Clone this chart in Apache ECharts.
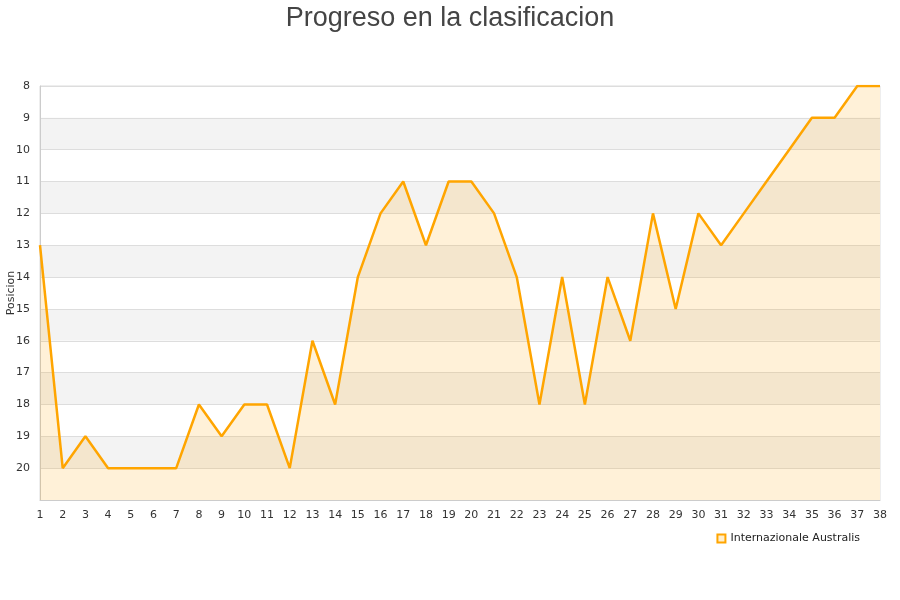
<!DOCTYPE html>
<html>
<head>
<meta charset="utf-8">
<script src="https://cdn.jsdelivr.net/npm/echarts@6/dist/echarts.min.js"></script>
<style>
  html, body { margin: 0; padding: 0; background: #fff; }
  #chart-container { width: 900px; height: 600px; }
</style>
</head>
<body>
<div id="chart-container"></div>
<script>
var dom = document.getElementById("chart-container");
var myChart = echarts.init(dom, null, { renderer: "canvas" });

var jornadas = [];
for (var i = 1; i <= 38; i++) jornadas.push(String(i));

var teamName = "Internazionale Australis";
var posiciones = [13, 20, 19, 20, 20, 20, 20, 18, 19, 18, 18, 20, 16, 18, 14, 12, 11, 13, 11, 11,
  12, 14, 18, 14, 18, 14, 16, 12, 15, 12, 13, 12, 11, 10, 9, 9, 8, 8];

var option = {
  textStyle: { fontFamily: "DejaVu Sans" },
  title: {
    text: "Progreso en la clasificacion",
    left: "center",
    top: 0,
    textStyle: { fontSize: 27, fontWeight: "normal", color: "#444", fontFamily: "Liberation Sans" }
  },
  legend: {
    data: [teamName],
    right: 35,
    top: 528,
    icon: "rect",
    itemWidth: 8,
    itemHeight: 8,
    textStyle: { fontSize: 11, color: "#222" }
  },
  grid: {
    left: 40, right: 20, top: 86, bottom: 100,
    outerBoundsMode: "none", containLabel: false,
    show: true, borderColor: "#ddd", borderWidth: 1
  },
  xAxis: {
    type: "category",
    data: jornadas,
    boundaryGap: false,
    axisLine: { lineStyle: { color: "#ccc" } },
    axisTick: { show: false },
    axisLabel: { color: "#333", fontSize: 11, interval: 0, margin: 10 }
  },
  yAxis: {
    type: "value",
    name: "Posicion",
    nameLocation: "middle",
    nameGap: 23,
    nameMoveOverlap: false,
    nameTextStyle: { fontSize: 11, color: "#333" },
    inverse: true,
    min: 8,
    max: 21,
    interval: 1,
    axisLine: { show: true, lineStyle: { color: "#ccc" } },
    axisTick: { show: false },
    axisLabel: {
      color: "#333",
      fontSize: 11,
      margin: 10,
      formatter: function (v) { return v === 21 ? "" : v; }
    },
    splitLine: { lineStyle: { color: "#ddd" } },
    splitArea: { show: true, areaStyle: { color: ["#ffffff", "#f3f3f3"] } }
  },
  series: [
    {
      name: teamName,
      type: "line",
      data: posiciones,
      symbol: "none",
      lineStyle: { color: "#ffa500", width: 2.5 },
      itemStyle: { color: "#ffeecc", borderColor: "#ffa500", borderWidth: 1 },
      areaStyle: { color: "rgba(255,165,0,0.22)", origin: "end" }
    }
  ]
};

myChart.setOption(option);
window.addEventListener("resize", myChart.resize);
</script>
</body>
</html>
